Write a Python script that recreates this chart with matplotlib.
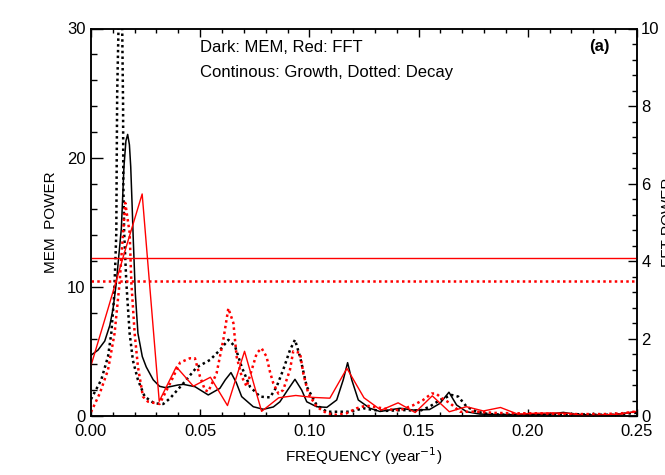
import matplotlib
matplotlib.use("Agg")
import matplotlib.pyplot as plt
from matplotlib.ticker import MultipleLocator, FormatStrFormatter

plt.rcParams['font.family'] = ['Liberation Sans', 'DejaVu Sans']

# MEM spectra (left axis)
mem_growth_f = [0.0, 0.0032, 0.0063, 0.0086, 0.0101, 0.0116, 0.0128, 0.0139, 0.0151, 0.0160,
                0.0168, 0.0176, 0.0182, 0.0188, 0.0194, 0.0203, 0.0215, 0.0235, 0.0253, 0.0285,
                0.0314, 0.034, 0.0362, 0.0398, 0.0423, 0.0476, 0.0537, 0.059, 0.0615, 0.0641,
                0.0665, 0.069, 0.0743, 0.0789, 0.0835, 0.0865, 0.090, 0.0934, 0.0965, 0.0988,
                0.1033, 0.108, 0.1125, 0.1155, 0.1175, 0.1194, 0.1224, 0.1277, 0.1323, 0.1338,
                0.1415, 0.1476, 0.155, 0.1598, 0.1639, 0.1674, 0.172, 0.178, 0.19, 0.20,
                0.21, 0.2163, 0.222, 0.23, 0.24, 0.248, 0.25]
mem_growth = [4.7, 5.1, 5.8, 7.0, 8.3, 10.3, 12.5, 14.5, 19.3, 21.3,
              21.8, 21.0, 19.3, 16.5, 13.5, 9.5, 6.4, 4.6, 3.8, 2.8,
              2.3, 2.2, 2.27, 2.4, 2.45, 2.27, 1.63, 2.14, 2.8, 3.36,
              2.6, 1.5, 0.72, 0.52, 0.7, 1.1, 2.0, 2.84, 2.0, 1.1,
              0.72, 0.67, 1.24, 2.8, 4.13, 2.8, 1.24, 0.6, 0.35, 0.39,
              0.6, 0.46, 0.5, 0.98, 1.84, 0.85, 0.33, 0.15, 0.1, 0.1,
              0.15, 0.28, 0.12, 0.08, 0.1, 0.3, 0.35]

mem_decay_f = [0.0, 0.0047, 0.0078, 0.0093, 0.0105, 0.0111, 0.0116, 0.0118, 0.0120, 0.0126,
               0.0131, 0.0138, 0.0143, 0.0147, 0.0148, 0.0152, 0.0162, 0.0177, 0.0192, 0.0215,
               0.0246, 0.029, 0.0331, 0.0362, 0.0423, 0.0484, 0.0545, 0.059, 0.0629, 0.066,
               0.069, 0.0728, 0.0774, 0.082, 0.085, 0.088, 0.0911, 0.0934, 0.0957, 0.0988,
               0.1033, 0.108, 0.1125, 0.1186, 0.1247, 0.1293, 0.1354, 0.143, 0.1506, 0.155,
               0.1598, 0.1651, 0.1682, 0.172, 0.1766, 0.182, 0.19, 0.20, 0.21, 0.22,
               0.23, 0.24, 0.25]
mem_decay = [1.3, 2.8, 4.6, 6.4, 9.0, 11.6, 14.2, 20.0, 25.0, 30.0,
             36.0, 36.0, 30.0, 24.0, 18.0, 14.2, 10.3, 6.4, 4.3, 2.8,
             1.5, 0.98, 0.93, 1.37, 2.53, 3.77, 4.34, 5.1, 5.9, 5.37,
             3.8, 2.27, 1.5, 1.44, 2.27, 3.57, 5.1, 5.9, 4.6, 2.27,
             0.85, 0.33, 0.33, 0.33, 0.6, 0.46, 0.4, 0.46, 0.4, 0.72,
             1.24, 1.63, 1.5, 0.72, 0.33, 0.15, 0.1, 0.1, 0.12, 0.15,
             0.1, 0.1, 0.25]

# FFT spectra (right axis)
fft_growth_f = [k / 128 for k in range(33)]
fft_growth = [1.30, 2.77, 4.27, 5.73, 0.38, 1.27, 0.77, 1.00, 0.27, 1.67,
              0.12, 0.47, 0.53, 0.48, 0.46, 1.23, 0.47, 0.15, 0.34, 0.09,
              0.52, 0.11, 0.24, 0.13, 0.22, 0.05, 0.07, 0.08, 0.07, 0.0,
              0.03, 0.05, 0.12]

fft_decay_f = [0.0, 0.004, 0.0078, 0.0108, 0.0131, 0.0147, 0.0157, 0.0177, 0.0185, 0.020,
               0.0215, 0.0238, 0.0261, 0.0314, 0.0362, 0.0408, 0.0453, 0.0476, 0.0499, 0.0522,
               0.0537, 0.0575, 0.0606, 0.0629, 0.0652, 0.0667, 0.069, 0.0713, 0.0736, 0.0759,
               0.0781, 0.0804, 0.082, 0.0835, 0.0858, 0.088, 0.0911, 0.0926, 0.0957, 0.0972,
               0.0995, 0.1033, 0.108, 0.1125, 0.117, 0.1217, 0.126, 0.130, 0.137, 0.1415,
               0.1476, 0.152, 0.156, 0.158, 0.1606, 0.1644, 0.169, 0.1766, 0.185, 0.195,
               0.205, 0.215, 0.225, 0.235, 0.243, 0.25]
fft_decay = [0.10, 0.58, 1.19, 2.13, 3.43, 4.73, 5.50, 4.73, 3.43, 2.13,
             1.27, 0.50, 0.37, 0.31, 0.84, 1.38, 1.49, 1.49, 1.02, 0.67,
             0.63, 1.10, 1.97, 2.78, 2.40, 1.53, 1.02, 0.76, 1.19, 1.62,
             1.75, 1.53, 1.13, 0.84, 0.58, 0.67, 1.19, 1.67, 1.63, 1.10,
             0.58, 0.24, 0.07, 0.03, 0.07, 0.20, 0.27, 0.23, 0.17, 0.15,
             0.28, 0.41, 0.58, 0.58, 0.46, 0.33, 0.11, 0.11, 0.08, 0.07,
             0.07, 0.05, 0.05, 0.05, 0.07, 0.12]

# significance levels (FFT units)
level_growth = 4.07
level_decay = 3.49

fig = plt.figure(figsize=(6.65, 4.75), dpi=100)
ax = fig.add_axes([0.1368, 0.1242, 0.8211, 0.8158])
ax2 = ax.twinx()

ax.plot(mem_growth_f, mem_growth, color='black', lw=1.1)
ax.plot(mem_decay_f, mem_decay, color='black', lw=1.8, ls=(0, (1, 1.3)))
ax2.plot(fft_growth_f, fft_growth, color='red', lw=1.0)
ax2.plot(fft_decay_f, fft_decay, color='red', lw=1.8, ls=(0, (1, 1.3)))
ax2.axhline(level_growth, color='red', lw=1.0)
ax2.axhline(level_decay, color='red', lw=1.8, ls=(0, (1, 1.3)))

ax.set_xlim(0, 0.25)
ax.set_ylim(0, 30)
ax2.set_ylim(0, 10)

ax.xaxis.set_major_locator(MultipleLocator(0.05))
ax.xaxis.set_minor_locator(MultipleLocator(0.01))
ax.xaxis.set_major_formatter(FormatStrFormatter('%.2f'))
ax.yaxis.set_major_locator(MultipleLocator(10))
ax.yaxis.set_minor_locator(MultipleLocator(2))
ax2.yaxis.set_major_locator(MultipleLocator(2))
ax2.yaxis.set_minor_locator(MultipleLocator(0.4))

ax.tick_params(axis='x', which='major', direction='in', top=True, length=5.4, width=1, labelsize=12, pad=6)
ax.tick_params(axis='x', which='minor', direction='in', top=True, length=2.9, width=1)
ax.tick_params(axis='y', which='major', direction='in', length=8.4, width=1, labelsize=12, pad=4)
ax.tick_params(axis='y', which='minor', direction='in', length=4.3, width=1)
ax2.tick_params(axis='y', which='major', direction='in', length=6.2, width=1, labelsize=12, pad=3)
ax2.tick_params(axis='y', which='minor', direction='in', length=3.5, width=1)

for a in (ax, ax2):
    for s in a.spines.values():
        s.set_linewidth(1.1)

ax.set_xlabel('FREQUENCY (year$^{-1}$)', fontsize=11, labelpad=4)
ax.set_ylabel('MEM  POWER', fontsize=11, labelpad=6)
fig.text(661 / 665, 0.533, 'FFT POWER', rotation=90, ha='left', va='center', fontsize=11)

fig.text(200 / 665, 1 - 47 / 475, 'Dark: MEM, Red: FFT', fontsize=12, va='center')
fig.text(200 / 665, 1 - 72 / 475, 'Continous: Growth, Dotted: Decay', fontsize=12, va='center')
fig.text(610 / 665, 1 - 47 / 475, '(a)', fontsize=12, fontweight='bold', ha='right', va='center')

fig.savefig('out.png', dpi=100)
